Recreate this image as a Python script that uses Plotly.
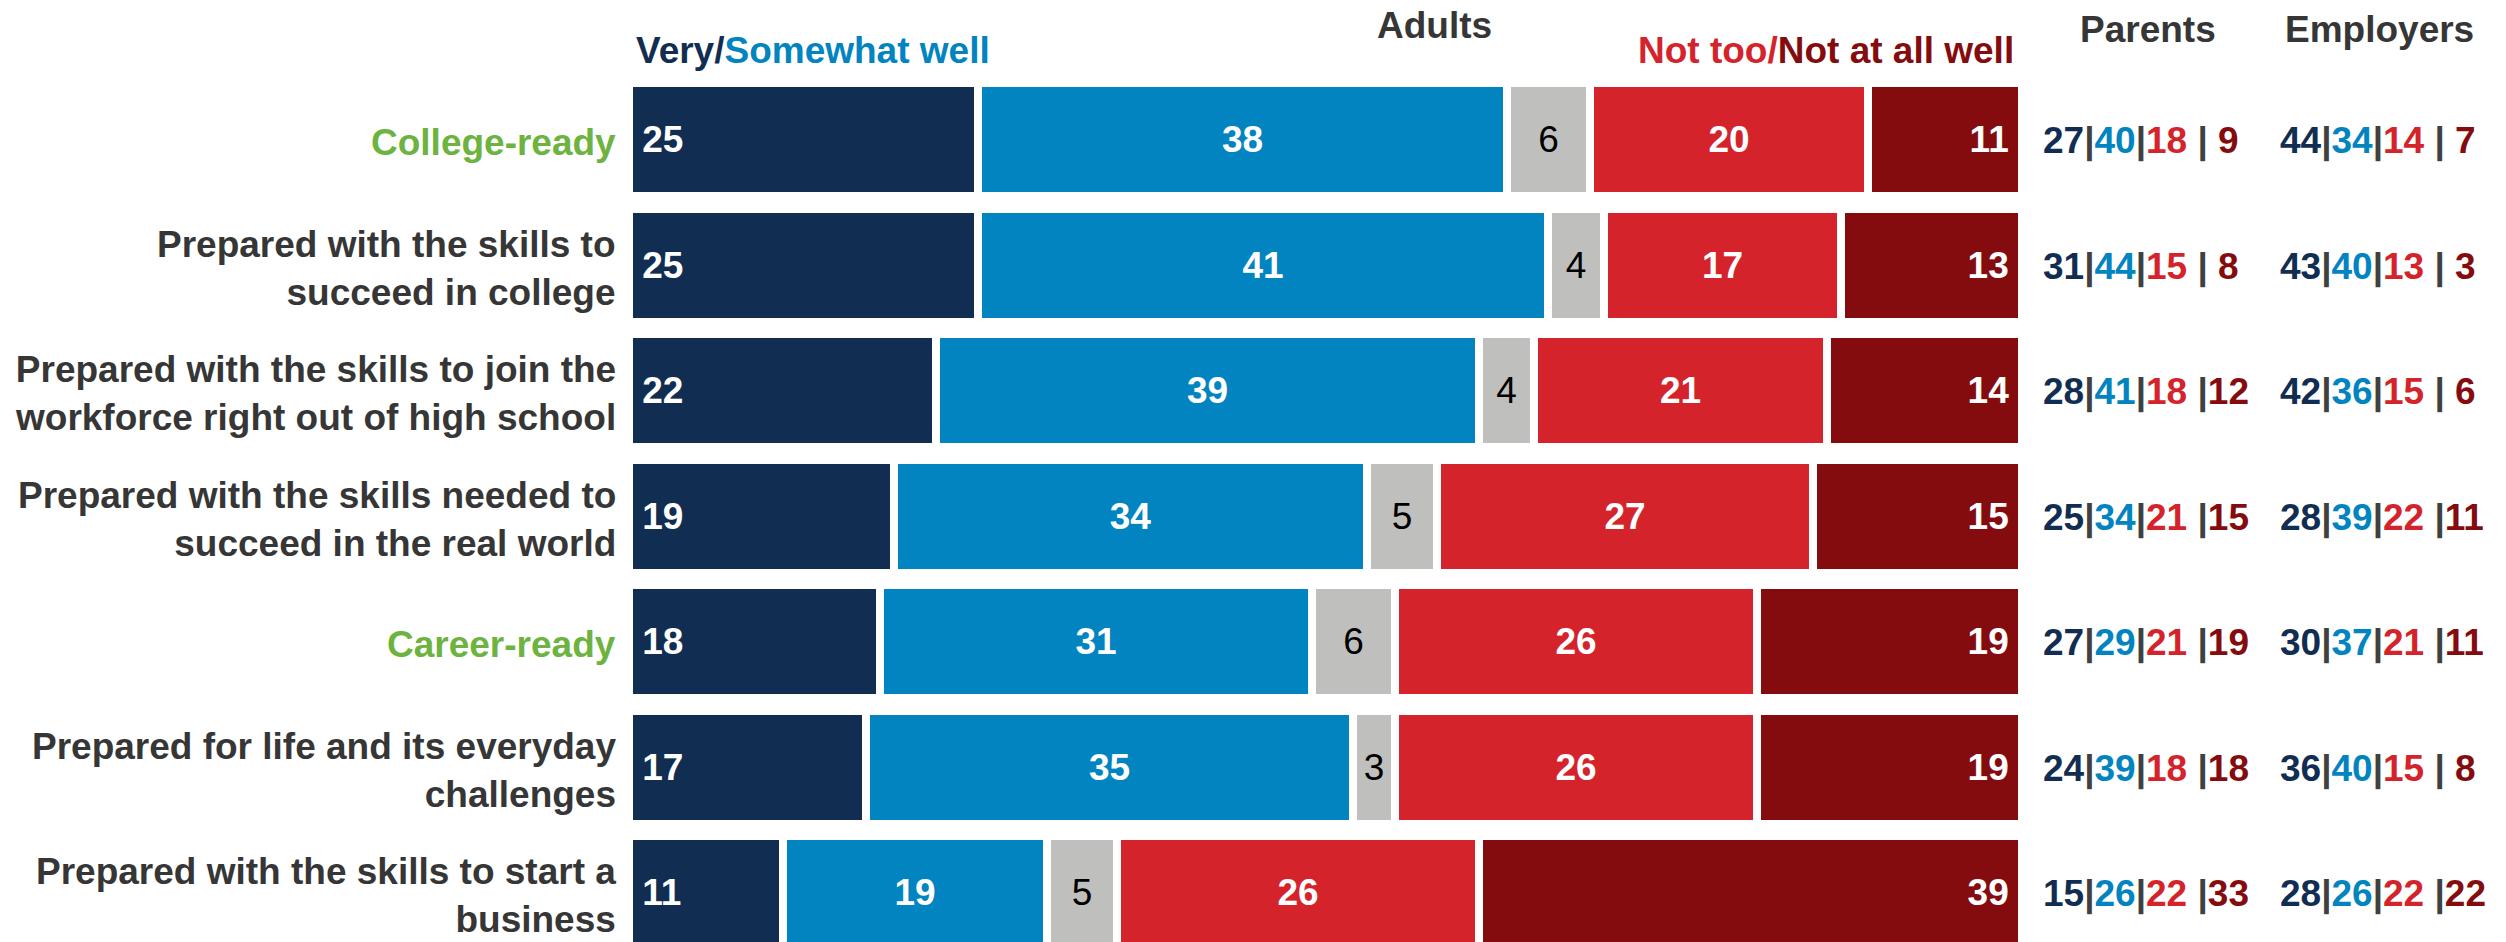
import plotly.graph_objects as go

categories = [
    "College-ready",
    "Prepared with the skills to<br>succeed in college",
    "Prepared with the skills to join the<br>workforce right out of high school",
    "Prepared with the skills needed to<br>succeed in the real world",
    "Career-ready",
    "Prepared for life and its everyday<br>challenges",
    "Prepared with the skills to start a<br>business",
]
highlight = [True, False, False, False, True, False, False]

very_well = [25, 25, 22, 19, 18, 17, 11]
somewhat_well = [38, 41, 39, 34, 31, 35, 19]
dont_know = [6, 4, 4, 5, 6, 3, 5]
not_too_well = [20, 17, 21, 27, 26, 26, 26]
not_at_all_well = [11, 13, 14, 15, 19, 19, 39]

parents = [[27, 40, 18, 9], [31, 44, 15, 8], [28, 41, 18, 12], [25, 34, 21, 15],
           [27, 29, 21, 19], [24, 39, 18, 18], [15, 26, 22, 33]]
employers = [[44, 34, 14, 7], [43, 40, 13, 3], [42, 36, 15, 6], [28, 39, 22, 11],
             [30, 37, 21, 11], [36, 40, 15, 8], [28, 26, 22, 22]]

NAVY = "#112d52"
BLUE = "#0284c0"
GRAY = "#bfbfbd"
RED = "#d4232b"
DKRED = "#840c0e"
GREEN = "#6db33f"
TXT = "#363636"
SEP = "#404040"
FONT = "Liberation Sans, Arial, sans-serif"
FS = 37
NB = "\u00a0"

rows = list(range(len(categories)))

fig = go.Figure()
series = [
    (very_well, NAVY, "white", "start", True),
    (somewhat_well, BLUE, "white", "middle", True),
    (dont_know, GRAY, "black", "middle", False),
    (not_too_well, RED, "white", "middle", True),
    (not_at_all_well, DKRED, "white", "end", True),
]
for vals, col, tcol, anchor, bold in series:
    labels = []
    for v in vals:
        s = f"<b>{v}</b>" if bold else f"{v}"
        if anchor == "start":
            s = NB + s
        elif anchor == "end":
            s = s + NB
        labels.append(s)
    fig.add_trace(go.Bar(
        y=rows, x=vals, orientation="h", width=0.9,
        marker=dict(color=col, line=dict(color="white", width=8)),
        text=labels,
        textposition="inside", insidetextanchor=anchor,
        textfont=dict(family=FONT, size=FS, color=tcol),
        constraintext="none", cliponaxis=False,
        hoverinfo="skip", showlegend=False,
    ))

ann = []
for r, (lab, hl) in enumerate(zip(categories, highlight)):
    ann.append(dict(x=-0.85, y=r + 0.025, xref="x", yref="y", text=f"<b>{lab}</b>",
                    xanchor="right", yanchor="middle", align="right", showarrow=False,
                    font=dict(family=FONT, size=FS, color=GREEN if hl else TXT)))


def compact(vals):
    a, b, c, d = vals
    sep = f"<span style='color:{SEP}'>|</span>"
    last = f"{d}" if d >= 10 else f" {d}"
    return (f"<b><span style='color:{NAVY}'>{a}</span>{sep}"
            f"<span style='color:{BLUE}'>{b}</span>{sep}"
            f"<span style='color:{RED}'>{c}</span> {sep}"
            f"<span style='color:{DKRED}'>{last}</span></b>")


for r in rows:
    ann.append(dict(x=101.4, y=r + 0.015, xref="x", yref="y", text=compact(parents[r]),
                    xanchor="left", yanchor="middle", showarrow=False,
                    font=dict(family=FONT, size=FS)))
    ann.append(dict(x=118.4, y=r + 0.015, xref="x", yref="y", text=compact(employers[r]),
                    xanchor="left", yanchor="middle", showarrow=False,
                    font=dict(family=FONT, size=FS)))

ann += [
    dict(x=0.3, y=-0.713, xref="x", yref="y", xanchor="left", yanchor="middle", showarrow=False,
         text=f"<b><span style='color:{NAVY}'>Very/</span><span style='color:{BLUE}'>Somewhat well</span></b>",
         font=dict(family=FONT, size=FS)),
    dict(x=99.6, y=-0.713, xref="x", yref="y", xanchor="right", yanchor="middle", showarrow=False,
         text=f"<b><span style='color:{RED}'>Not too/</span><span style='color:{DKRED}'>Not at all well</span></b>",
         font=dict(family=FONT, size=FS)),
    dict(x=57.8, y=-0.905, xref="x", yref="y", xanchor="center", yanchor="middle", showarrow=False,
         text="<b>Adults</b>", font=dict(family=FONT, size=FS, color=TXT)),
    dict(x=109.1, y=-0.88, xref="x", yref="y", xanchor="center", yanchor="middle", showarrow=False,
         text="<b>Parents</b>", font=dict(family=FONT, size=FS, color=TXT)),
    dict(x=125.7, y=-0.88, xref="x", yref="y", xanchor="center", yanchor="middle", showarrow=False,
         text="<b>Employers</b>", font=dict(family=FONT, size=FS, color=TXT)),
]

fig.update_layout(
    width=2506, height=942,
    margin=dict(l=0, r=0, t=0, b=0),
    barmode="stack", bargap=0,
    paper_bgcolor="white", plot_bgcolor="white",
    annotations=ann,
    xaxis=dict(range=[-45.22, 134.8], visible=False, fixedrange=True),
    yaxis=dict(range=[6.394, -1.1116], visible=False, fixedrange=True),
)

fig.write_html("out.html", config={"displayModeBar": False})
